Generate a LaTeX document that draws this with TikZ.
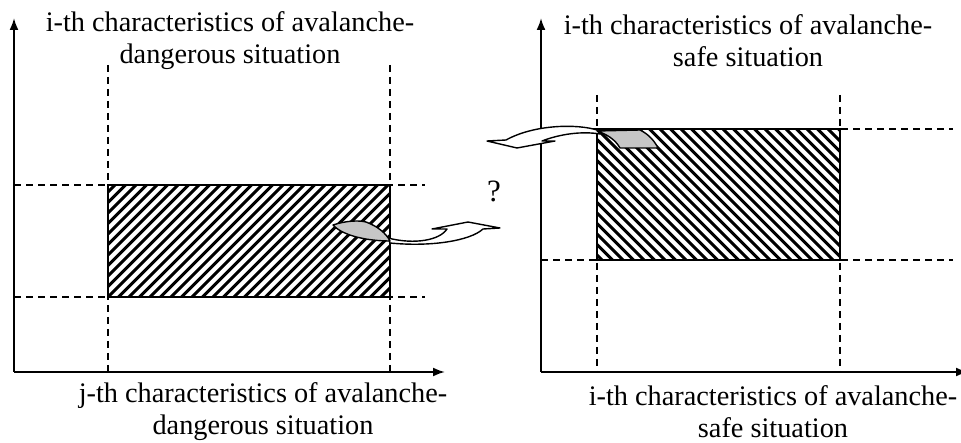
\documentclass[tikz,border=0pt]{standalone}
\usepackage{fontspec}
\setmainfont{Liberation Serif}
\usetikzlibrary{arrows.meta,calc}
\begin{document}
\begin{tikzpicture}[x=1pt,y=-1pt,
  axis/.style={line width=2pt,-{Latex[length=12pt,width=9pt]}},
  guide/.style={line width=1.8pt,dash pattern=on 7pt off 5pt},
  hatch/.style={line width=3pt},
  box/.style={draw,line width=2.5pt,inner sep=0pt,outer sep=0pt},
  lbl/.style={font=\fontsize{28.3}{32}\selectfont,align=center,inner sep=0pt},
  curl/.style={line width=1.4pt,fill=white,line join=round},
  tail/.style={line width=1.4pt,fill=gray!45,line join=round}]
\useasboundingbox (0,0) rectangle (961,443);

% ---------- left panel ----------
\coordinate (LO) at (14,372);
\coordinate (LY) at (14,18);
\coordinate (LX) at (445,372);
\draw[guide] (108,65) -- (108,372);
\draw[guide] (390,65) -- (390,372);
\draw[guide] (14,185) -- (425,185);
\draw[guide] (14,297) -- (425,297);
\node[box,minimum width=282pt,minimum height=112pt,anchor=north west,
  path picture={\foreach \k in {-12,...,28}
    \draw[hatch] ($(path picture bounding box.south west)+(\k*10.5,0)$) -- ++(120,-120);}]
  (RA) at (108,185) {};
\draw[axis] (LO) -- (LY);
\draw[axis] (LO) -- (LX);
\node[lbl] (TA) at (230,41) {i-th characteristics of avalanche-\\dangerous situation};
\node[lbl] (BA) at (263,412) {j-th characteristics of avalanche-\\dangerous situation};

% ---------- right panel ----------
\coordinate (RO) at (541,372);
\coordinate (RY) at (541,18);
\coordinate (RX) at (968,372);
\draw[guide] (597,95) -- (597,372);
\draw[guide] (840,95) -- (840,372);
\draw[guide] (541,129) -- (953,129);
\draw[guide] (541,260) -- (953,260);
\node[box,minimum width=243pt,minimum height=131pt,anchor=north west,
  path picture={\foreach \k in {-14,...,26}
    \draw[hatch] ($(path picture bounding box.north west)+(\k*10.5,0)$) -- ++(140,140);}]
  (RB) at (597,129) {};
\draw[axis] (RO) -- (RY);
\draw[axis] (RO) -- (RX);
\node[lbl] (TB) at (748,41) {i-th characteristics of avalanche-\\safe situation};
\node[lbl] (BB) at (773,412) {i-th characteristics of avalanche-\\safe situation};

% ---------- question mark ----------
\node[lbl,font=\fontsize{31}{34}\selectfont] (Q) at (494,191) {?};

% ---------- curved arrow from left box ----------
\draw[curl] (388,238) .. controls (415,245) and (440,240) .. (447,229)
  -- (432,229) -- (468,222) -- (500,228) -- (483,229)
  .. controls (470,241) and (430,247) .. (390,243) -- cycle;
\draw[tail] (333,225) .. controls (345,221) and (358,220) .. (366,222)
  .. controls (377,226) and (386,233) .. (390,241)
  .. controls (368,241) and (343,236) .. (333,225) -- cycle;

% ---------- curved arrow from right box ----------
\draw[curl] (597,130) .. controls (578,124) and (535,124) .. (506,140)
  -- (487,141) -- (517,148) -- (555,141) -- (542,141)
  .. controls (560,134) and (582,131) .. (600,134) -- cycle;
\draw[tail] (597,131) -- (640,130) .. controls (648,134) and (654,140) .. (658,148)
  -- (620,148) .. controls (615,139) and (606,134) .. (597,131) -- cycle;
\end{tikzpicture}
\end{document}
